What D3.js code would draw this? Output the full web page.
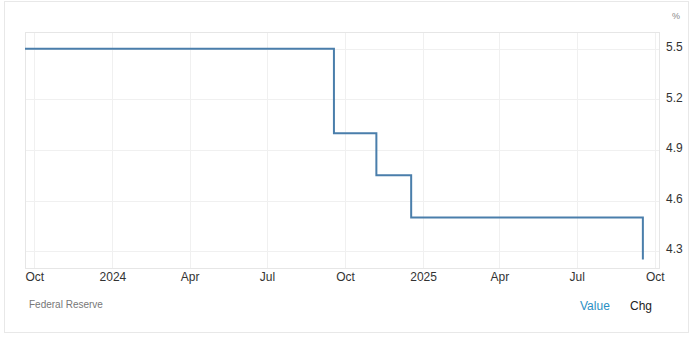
<!DOCTYPE html>
<html>
<head>
<meta charset="utf-8">
<script src="https://cdn.jsdelivr.net/npm/d3@7"></script>
<style>
  body { margin: 0; background: #fff; }
  svg { display: block; font-family: Arial, "Liberation Sans", sans-serif; }
</style>
</head>
<body>
<svg width="698" height="340"></svg>
<script>
// policy rate steps (date the rate took effect, percent)
const dates = ["2023-09-20", "2024-09-18", "2024-11-07", "2024-12-18", "2025-09-17"];
const rates = [5.5, 5.0, 4.75, 4.5, 4.25];
const yTicks = [4.3, 4.6, 4.9, 5.2, 5.5];
const xTickDates = ["2023-10-01", "2024-01-01", "2024-04-01", "2024-07-01", "2024-10-01",
  "2025-01-01", "2025-04-01", "2025-07-01", "2025-10-01"];

const parse = d3.timeParse("%Y-%m-%d");
const data = dates.map((d, i) => ({ date: parse(d), value: rates[i] }));

const svg = d3.select("svg");
const plotL = 25, plotR = 659, plotT = 32, plotB = 268;

const x = d3.scaleTime()
  .domain([parse("2023-09-20"), parse("2025-10-06")])
  .range([plotL, plotR]);
const y = d3.scaleLinear().domain([4.2, 5.6]).range([plotB, plotT]);

// card border
svg.append("rect")
  .attr("x", 4.5).attr("y", 1.5).attr("width", 684).attr("height", 331)
  .attr("fill", "none").attr("stroke", "#e8e8e8");

// grid
const grid = svg.append("g");
grid.selectAll("line.v").data(xTickDates.map(parse)).join("line")
  .attr("x1", d => Math.round(x(d)) + 0.5).attr("x2", d => Math.round(x(d)) + 0.5)
  .attr("y1", plotT).attr("y2", plotB)
  .attr("stroke", "#f0f0f0");
grid.selectAll("line.h").data(yTicks).join("line")
  .attr("x1", plotL).attr("x2", plotR)
  .attr("y1", d => Math.round(y(d)) + 0.5).attr("y2", d => Math.round(y(d)) + 0.5)
  .attr("stroke", "#f0f0f0");
grid.append("rect")
  .attr("x", plotL + 0.5).attr("y", plotT + 0.5)
  .attr("width", plotR - plotL).attr("height", plotB - plotT)
  .attr("fill", "none").attr("stroke", "#e6e6e6");

// y axis labels on the right
const yAxis = d3.axisRight(y).tickValues(yTicks).tickSize(0).tickPadding(0)
  .tickFormat(d3.format(".1f"));
svg.append("g")
  .attr("transform", `translate(${plotR + 7},-2)`)
  .call(yAxis)
  .call(g => g.select(".domain").remove())
  .call(g => g.selectAll("text").attr("font-size", 12).attr("fill", "#333")
    .attr("font-family", "Arial, 'Liberation Sans', sans-serif"));

svg.append("text")
  .attr("x", 672).attr("y", 19)
  .attr("font-size", 9).attr("fill", "#888")
  .text("%");

// x axis labels
const fmt = d => d.getMonth() === 0 ? d3.timeFormat("%Y")(d) : d3.timeFormat("%b")(d);
const xAxis = d3.axisBottom(x).tickValues(xTickDates.map(parse)).tickSize(0).tickPadding(0)
  .tickFormat(fmt);
svg.append("g")
  .attr("transform", `translate(0,${plotB + 4})`)
  .call(xAxis)
  .call(g => g.select(".domain").remove())
  .call(g => g.selectAll("text").attr("font-size", 12).attr("fill", "#333")
    .attr("font-family", "Arial, 'Liberation Sans', sans-serif"));

// step line
const line = d3.line()
  .x(d => x(d.date))
  .y(d => y(d.value))
  .curve(d3.curveStepAfter);
svg.append("path")
  .datum(data)
  .attr("fill", "none")
  .attr("stroke", "#4a7eab")
  .attr("stroke-width", 2)
  .attr("d", line);

// footer
svg.append("text")
  .attr("x", 29).attr("y", 308)
  .attr("font-size", 10).attr("fill", "#777")
  .text("Federal Reserve");
svg.append("text")
  .attr("x", 580).attr("y", 310)
  .attr("font-size", 12).attr("fill", "#2a8fc4")
  .text("Value");
svg.append("text")
  .attr("x", 630).attr("y", 310)
  .attr("font-size", 12).attr("fill", "#222")
  .text("Chg");
</script>
</body>
</html>
